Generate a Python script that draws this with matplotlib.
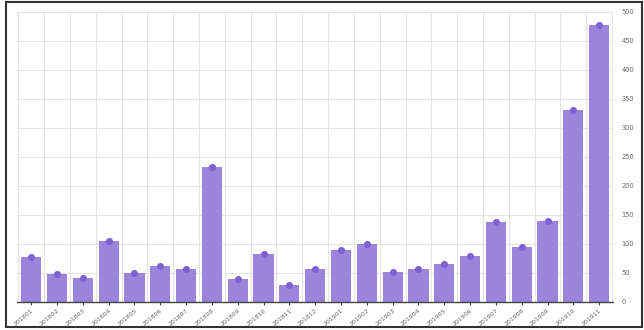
import matplotlib
matplotlib.use('Agg')
import matplotlib.pyplot as plt
import numpy as np
from matplotlib.patches import Rectangle

months = ['201801', '201802', '201803', '201804', '201805', '201806', '201807', '201808',
          '201809', '201810', '201811', '201812', '201901', '201902', '201903', '201904',
          '201905', '201906', '201907', '201908', '201909', '201910', '201911']
counts = [78, 48, 41, 105, 50, 62, 57, 232, 40, 82, 29, 56,
          90, 100, 51, 57, 66, 79, 137, 95, 140, 331, 477]
y_ticks = [0, 50, 100, 150, 200, 250, 300, 350, 400, 450, 500]

bar_color = '#9B84DB'
dot_color = '#7F62D2'


def main():
    fig = plt.figure(figsize=(6.44, 3.30), dpi=100)
    ax = fig.add_axes([0.0264, 0.085, 0.926, 0.879])

    x = np.arange(len(months))
    ax.bar(x, counts, width=0.78, color=bar_color, zorder=2)
    ax.scatter(x, counts, s=26, color=dot_color, zorder=3, linewidths=0)

    ax.set_xlim(-0.55, len(months) - 0.45)
    ax.set_ylim(0, 500)

    # grid: horizontal every 50, vertical on band edges
    for yv in y_ticks[1:]:
        ax.axhline(yv, color='#e6e6e6', lw=0.8, zorder=0)
    for edge in np.arange(-0.5, len(months) + 0.5, 1.0):
        ax.axvline(edge, color='#e3e3e3', lw=0.8, zorder=0)

    ax.set_xticks(x)
    ax.set_xticklabels(months, rotation=40, ha='right', rotation_mode='anchor',
                       fontsize=4.5, color='#666666')
    ax.tick_params(axis='x', length=2.5, width=0.8, color='#444444', pad=2)

    ax.yaxis.tick_right()
    ax.set_yticks(y_ticks)
    ax.set_yticklabels([str(v) for v in y_ticks], fontsize=4.8, color='#666666')
    ax.tick_params(axis='y', length=0, pad=6)

    for side in ['top', 'left', 'right']:
        ax.spines[side].set_visible(False)
    ax.spines['bottom'].set_color('#444444')
    ax.spines['bottom'].set_linewidth(1.0)
    ax.spines['bottom'].set_zorder(4)

    # outer frame of the chart box
    frame = Rectangle((6 / 644, 3 / 330), 636 / 644, 325 / 330, transform=fig.transFigure,
                      fill=False, edgecolor='#333333', lw=1.5)
    fig.patches.append(frame)

    fig.savefig('out.png', dpi=100)


if __name__ == '__main__':
    main()
